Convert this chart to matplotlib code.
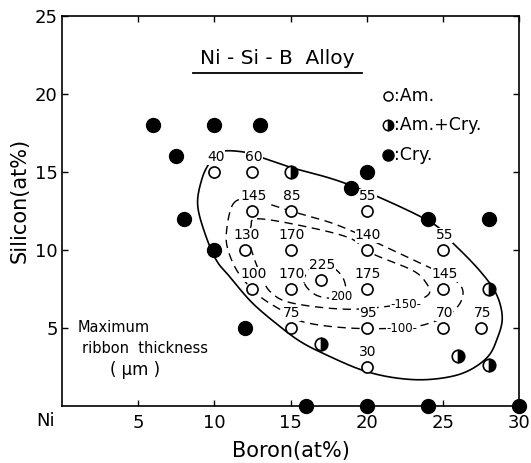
import numpy as np
import matplotlib
matplotlib.use("Agg")
import matplotlib.pyplot as plt

plt.rcParams['font.family'] = ['DejaVu Sans']

# ---------------- data ----------------
# amorphous samples (open circles) and their maximum ribbon thickness (um)
am_b = [10, 12.5, 12.5, 15, 20, 12, 15, 20, 25, 12.5, 15, 17, 20, 25, 15, 20, 25, 27.5, 20]
am_si = [15, 15, 12.5, 12.5, 12.5, 10, 10, 10, 10, 7.5, 7.5, 8.1, 7.5, 7.5, 5, 5, 5, 5, 2.5]
am_thk = [40, 60, 145, 85, 55, 130, 170, 140, 55, 100, 170, 225, 175, 145, 75, 95, 70, 75, 30]

# amorphous + crystalline (half filled)
mix_b = [15, 17, 26, 28, 28]
mix_si = [15, 4, 3.2, 2.6, 7.5]

# crystalline (filled)
cry_b = [6, 10, 13, 7.5, 8, 10, 12, 19, 20, 24, 28, 16, 20, 24, 30]
cry_si = [18, 18, 18, 16, 12, 10, 5, 14, 15, 12, 12, 0, 0, 0, 0]

# iso-thickness boundaries (boron, silicon)
outer_b = [10.4, 11.8, 12.9, 15.0, 18.8, 24.0, 25.6, 27.4, 28.5, 28.9, 28.6, 27.9, 26.3, 24.1,
           21.9, 19.7, 17.3, 15.7, 14.3, 12.5, 11.0, 10.1, 9.3, 8.9, 9.2, 9.7]
outer_si = [16.3, 16.3, 16.0, 15.3, 14.2, 11.9, 10.5, 8.7, 7.2, 5.7, 4.4, 3.1, 2.1, 1.7,
            1.8, 2.3, 3.3, 4.1, 5.1, 6.6, 8.3, 9.4, 11.3, 13.0, 14.6, 15.6]

c100_b = [11.2, 12.1, 13.4, 15.0, 17.5, 19.3, 20.8, 24.3, 26.0, 26.3, 25.6, 24.1, 22.3, 18.8,
          15.8, 14.3, 12.9, 11.6, 10.9, 10.8]
c100_si = [12.9, 13.3, 13.0, 12.5, 11.8, 11.1, 10.4, 8.8, 7.9, 7.0, 6.0, 5.3, 5.0, 5.0,
           5.4, 6.2, 7.1, 8.5, 10.0, 11.2]

c150_b = [12.8, 15.5, 18.8, 20.3, 23.0, 23.9, 24.1, 23.2, 22.3, 18.8, 15.1, 13.7, 13.1, 12.6,
          12.3, 12.4]
c150_si = [12.0, 11.6, 10.8, 9.8, 8.7, 7.9, 7.2, 6.7, 6.5, 6.2, 6.6, 7.3, 8.3, 9.5, 10.6, 11.5]

c200_b = [15.9, 16.2, 17.0, 17.9, 18.5, 18.6, 18.0, 16.7]
c200_si = [7.9, 8.7, 9.1, 8.8, 8.1, 7.2, 6.9, 7.1]

contour_labels = ["-150-", "-100-", "200"]
contour_label_b = [22.6, 22.3, 18.3]
contour_label_si = [6.5, 5.0, 7.0]

xticks = [5, 10, 15, 20, 25, 30]
yticks = [5, 10, 15, 20, 25]


def closed_spline(xs, ys, n=24):
    P = np.column_stack([xs, ys]).astype(float)
    N = len(P)
    t = np.linspace(0, 1, n, endpoint=False)[:, None]
    out = []
    for i in range(N):
        p0, p1, p2, p3 = P[i - 1], P[i], P[(i + 1) % N], P[(i + 2) % N]
        seg = 0.5 * ((2 * p1) + (-p0 + p2) * t + (2 * p0 - 5 * p1 + 4 * p2 - p3) * t ** 2
                     + (-p0 + 3 * p1 - 3 * p2 + p3) * t ** 3)
        out.append(seg)
    out.append(P[:1])
    return np.vstack(out)


fig = plt.figure(figsize=(5.31, 4.63), dpi=100)
ax = fig.add_axes([62 / 531, 1 - 406 / 463, (519 - 62) / 531, (406 - 16) / 463])
ax.set_xlim(0, 30)
ax.set_ylim(0, 25)

# boundaries
o = closed_spline(outer_b, outer_si)
ax.plot(o[:, 0], o[:, 1], color='black', lw=1.2, zorder=2)
dash = (0, (6, 4))
for bx, sy in [(c100_b, c100_si), (c150_b, c150_si), (c200_b, c200_si)]:
    c = closed_spline(bx, sy)
    ax.plot(c[:, 0], c[:, 1], color='black', lw=1.0, linestyle=dash, zorder=2)

for lab, bx, sy in zip(contour_labels, contour_label_b, contour_label_si):
    ax.text(bx, sy, lab, fontsize=8.5, ha='center', va='center',
            zorder=3, bbox=dict(fc='white', ec='none', pad=0.3))

# points
ax.plot(am_b, am_si, 'o', ms=8, mfc='white', mec='black', mew=1.2, ls='none', zorder=5)
ax.plot(mix_b, mix_si, 'o', ms=9, mfc='black', mfcalt='white', fillstyle='right',
        mec='black', mew=1.2, ls='none', zorder=5)
ax.plot(cry_b, cry_si, 'o', ms=10, mfc='black', mec='black', ls='none', zorder=5, clip_on=False)

for b, s, t in zip(am_b, am_si, am_thk):
    ax.annotate(str(t), (b, s), xytext=(1, 10.5), textcoords='offset points', fontsize=10,
                ha='center', va='center', zorder=4,
                bbox=dict(fc='white', ec='none', pad=0.2))

# legend (drawn by hand, as in the figure)
leg_x = 21.4
leg_y = [19.9, 18.0, 16.1]
ax.plot([leg_x], [leg_y[0]], 'o', ms=6.5, mfc='white', mec='black', mew=1.1)
ax.plot([leg_x], [leg_y[1]], 'o', ms=7.5, mfc='black', mfcalt='white', fillstyle='right',
        mec='black', mew=1.1)
ax.plot([leg_x], [leg_y[2]], 'o', ms=8, mfc='black', mec='black')
for y, s in zip(leg_y, [":Am.", ":Am.+Cry.", ":Cry."]):
    ax.text(leg_x + 0.4, y, s, fontsize=12.5, ha='left', va='center')

# title with underline
ax.text(14.1, 21.9, "Ni - Si - B  Alloy", fontsize=14.5, ha='center', va='baseline')
ax.plot([8.6, 19.7], [21.35, 21.35], color='black', lw=1.3)

ax.text(1.0, 5.0, "Maximum", fontsize=10.5, ha='left', va='center')
ax.text(1.3, 3.7, "ribbon  thickness", fontsize=10.5, ha='left', va='center')
ax.text(4.8, 2.3, "( \u03bcm )", fontsize=12, ha='center', va='center')

# axes styling
ax.set_xticks(xticks)
ax.set_yticks(yticks)
ax.tick_params(direction='in', top=True, right=True, length=4, width=1.0, labelsize=13)
ax.tick_params(axis='x', pad=6)
ax.tick_params(axis='y', pad=3)
for sp in ax.spines.values():
    sp.set_linewidth(1.2)
ax.text(-1.05, -0.038, "Ni", fontsize=13, ha='center', va='center',
        transform=ax.get_xaxis_transform())

ax.set_xlabel("Boron(at%)", fontsize=15)
ax.xaxis.set_label_coords(0.5, -0.09)
ax.set_ylabel("Silicon(at%)", fontsize=15, va='center')
ax.yaxis.set_label_coords(-0.092, 0.526)

fig.savefig("out.png", dpi=100)
